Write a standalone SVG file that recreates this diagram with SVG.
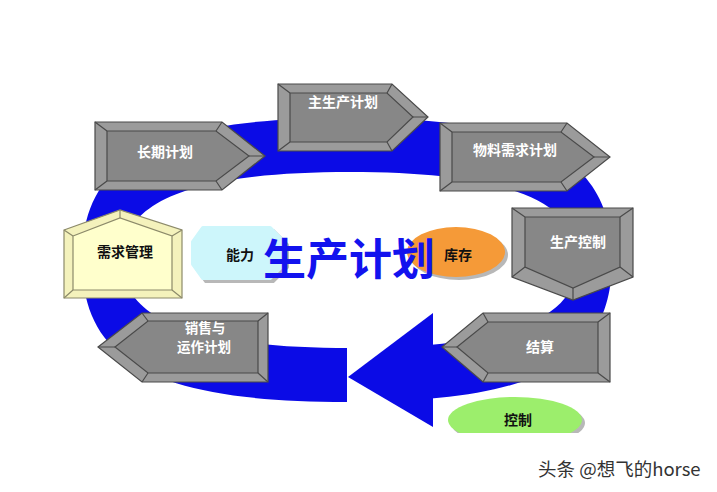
<svg xmlns="http://www.w3.org/2000/svg" width="717" height="492" viewBox="0 0 717 492">
<style>
.ring{fill:#0b0be6}
.gout{fill:#9b9b9b;stroke:#4a4a4a;stroke-width:1.2;stroke-linejoin:miter}
.gin{fill:#878787;stroke:#4a4a4a;stroke-width:1.2}
.bev{fill:none;stroke:#4a4a4a;stroke-width:1.2}
.yout{fill:#f4f2bc;stroke:#8c8a6a;stroke-width:1.2}
.yin{fill:#ffffcc;stroke:#8c8a6a;stroke-width:1.2}
.ybev{fill:none;stroke:#8c8a6a;stroke-width:1.2}
.wt{font-family:"Noto Sans CJK SC","Noto Sans",sans-serif;font-weight:bold;font-size:14px;fill:#ffffff;text-anchor:middle}
.bt{font-family:"Noto Sans CJK SC","Noto Sans",sans-serif;font-weight:bold;font-size:14px;fill:#111111;text-anchor:middle}
.shadow{fill:#b8b8b8}
</style>
<defs>
<clipPath id="gap">
<path clip-rule="evenodd" d="M0 0H717V492H0Z M347 330H433V420H347Z"/>
</clipPath>
<clipPath id="cut">
<rect x="0" y="0" width="717" height="433"/>
</clipPath>
</defs>
<rect width="717" height="492" fill="#ffffff"/>

<g id="connectors">
<path class="ring" fill-rule="evenodd" clip-path="url(#gap)" d="M612,260 C612,362 538,402 347,402 C156,402 82,362 82,260 C82,158 156,118 347,118 C538,118 612,158 612,260 Z M578,260 C578,320 505,348 350,348 C195,348 122,320 122,260 C122,200 195,172 350,172 C505,172 578,200 578,260 Z"/>
<polygon class="ring" points="348,377 433,313 433,427"/>
</g>

<g id="node-changqi">
<polygon class="gout" points="95,122 222,122 265,156 222,190 95,190"/>
<polygon class="gin" points="107,131 216,131 249,156 216,181 107,181"/>
<path class="bev" d="M95,122L107,131M222,122L216,131M265,156L249,156M222,190L216,181M95,190L107,181"/>
<text class="wt" x="165" y="157">长期计划</text>
</g>

<g id="node-zhushengchan">
<polygon class="gout" points="278,84 392,84 428,117 392,151 278,151"/>
<polygon class="gin" points="290,93 387,93 413,117 387,142 290,142"/>
<path class="bev" d="M278,84L290,93M392,84L387,93M428,117L413,117M392,151L387,142M278,151L290,142"/>
<text class="wt" x="343" y="107">主生产计划</text>
</g>

<g id="node-wuliao">
<polygon class="gout" points="440,123 567,123 610,157 567,191 440,191"/>
<polygon class="gin" points="452,132 561,132 594,157 561,182 452,182"/>
<path class="bev" d="M440,123L452,132M567,123L561,132M610,157L594,157M567,191L561,182M440,191L452,182"/>
<text class="wt" x="515" y="155">物料需求计划</text>
</g>

<g id="node-shengchankongzhi">
<polygon class="gout" points="512,208 633,208 633,277 573,300 512,277"/>
<polygon class="gin" points="525,217 620,217 620,267 573,288 525,267"/>
<path class="bev" d="M512,208L525,217M633,208L620,217M633,277L620,267M573,300L573,288M512,277L525,267"/>
<text class="wt" x="578" y="247">生产控制</text>
</g>

<g id="node-jiesuan">
<polygon class="gout" points="442,347 483,313 610,313 610,382 483,382"/>
<polygon class="gin" points="457,347 488,322 598,322 598,373 488,373"/>
<path class="bev" d="M442,347L457,347M483,313L488,322M610,313L598,322M610,382L598,373M483,382L488,373"/>
<text class="wt" x="540" y="352">结算</text>
</g>

<g id="node-xiaoshou">
<polygon class="gout" points="98,347 142,313 268,313 268,382 142,382"/>
<polygon class="gin" points="115,347 148,321 258,321 258,373 148,373"/>
<path class="bev" d="M98,347L115,347M142,313L148,321M268,313L258,321M268,382L258,373M142,382L148,373"/>
<text class="wt" x="205" y="333" style="font-size:13.5px">销售与</text>
<text class="wt" x="204" y="352" style="font-size:13.5px">运作计划</text>
</g>

<g id="node-xuqiu">
<polygon class="yout" points="64,230 120,210 182,230 182,298 64,298"/>
<polygon class="yin" points="73,236 120,218 172,236 172,290 73,290"/>
<path class="ybev" d="M64,230L73,236M120,210L120,218M182,230L172,236M182,298L172,290M64,298L73,290"/>
<text class="bt" x="125" y="257">需求管理</text>
</g>

<g id="node-nengli">
<polygon class="shadow" points="206,231 273,231 287,245 287,267 273,281 206,281 196,267 196,245" stroke="#b8b8b8" stroke-width="4" stroke-linejoin="round"/>
<polygon points="203,228 270,228 284,242 284,264 270,278 203,278 193,264 193,242" fill="#cdf6fb" stroke="#cdf6fb" stroke-width="4" stroke-linejoin="round"/>
<text class="bt" x="240" y="260">能力</text>
</g>

<g id="node-kucun">
<ellipse class="shadow" cx="459" cy="255" rx="49" ry="25"/>
<ellipse cx="456" cy="252" rx="49" ry="25" fill="#f59a38"/>
<text class="bt" x="458" y="260">库存</text>
</g>

<g id="node-kongzhi" clip-path="url(#cut)">
<ellipse class="shadow" cx="518" cy="423" rx="67" ry="23"/>
<ellipse cx="515" cy="420" rx="67" ry="23" fill="#9cee6c"/>
<text class="bt" x="518" y="425">控制</text>
</g>

<g id="title">
<text x="349" y="275" font-family="'Noto Sans CJK SC','Noto Sans',sans-serif" font-size="43" font-weight="bold" fill="#1212ee" text-anchor="middle">生产计划</text>
</g>

<g id="watermark">
<text x="538" y="476" font-family="'Noto Sans CJK SC','Noto Sans',sans-serif" font-size="18.5" fill="#333333">头条 @想飞的horse</text>
</g>
</svg>
